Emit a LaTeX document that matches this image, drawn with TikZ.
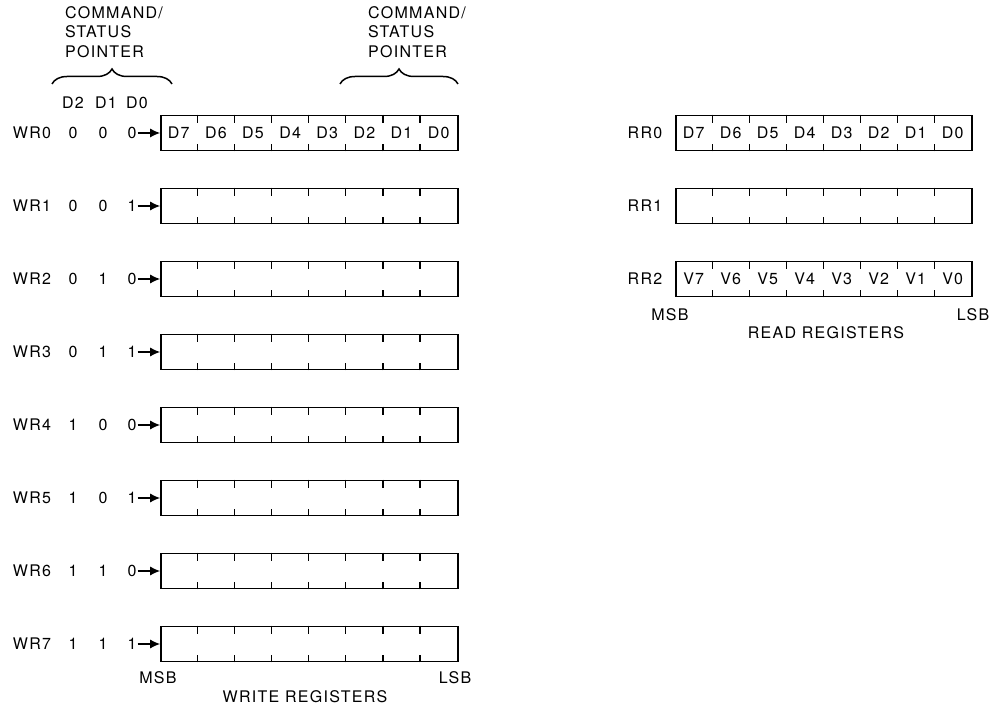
\documentclass[tikz,border=0pt]{standalone}
\usepackage{fontspec}
\setmainfont{TeX Gyre Heros}[LetterSpace=8]
\usetikzlibrary{decorations.pathreplacing,arrows.meta,calc}
\begin{document}
\begin{tikzpicture}[x=1pt,y=1pt,
  font=\fontsize{16}{19.5}\selectfont,
  txt/.style={inner sep=0pt},
  regbox/.style={draw,line width=1.6pt,minimum width=297pt,minimum height=35pt,inner sep=0pt},
  tick/.style={line width=1.2pt},
  ptr/.style={line width=1.4pt,-{Latex[length=10pt,width=9pt]},shorten <=1pt},
  brc/.style={line width=1.5pt,decorate,decoration={brace,amplitude=15pt}}]
\useasboundingbox (0,0) rectangle (989,718);

% ---- write registers ----
\foreach \k/\a/\b/\c in {0/0/0/0,1/0/0/1,2/0/1/0,3/0/1/1,4/1/0/0,5/1/0/1,6/1/1/0,7/1/1/1}{
  \pgfmathsetmacro{\yc}{718-(133+73*\k)}
  \node[regbox] (w\k) at (309.5,\yc) {};
  \foreach \i in {1,...,7}{
    \draw[tick] ($(w\k.north west)+(37.125*\i,0)$) -- ++(0,-8);
    \draw[tick] ($(w\k.south west)+(37.125*\i,0)$) -- ++(0,7);
  }
  \node[txt] (wl\k) at (32,\yc) {WR\k};
  \node[txt] (wa\k) at (73,\yc) {\a};
  \node[txt] (wb\k) at (103,\yc) {\b};
  \node[txt] (wc\k) at (132,\yc) {\c};
  \draw[ptr] (wc\k.east) -- (w\k.west);
}
% bit names in WR0
\foreach \i/\t in {0/D7,1/D6,2/D5,3/D4,4/D3,5/D2,6/D1,7/D0}{
  \node[txt] (wd\i) at ($(w0.west)+(18.56+37.125*\i,0)$) {\t};
}
\node[txt] (hd2) at (73,615) {D2};
\node[txt] (hd1) at (106,615) {D1};
\node[txt] (hd0) at (137,615) {D0};

\node[txt,anchor=north west,align=left] (cmdl) at (65,712) {COMMAND/\\STATUS\\POINTER};
\node[txt,anchor=north west,align=left] (cmdr) at (368,712) {COMMAND/\\STATUS\\POINTER};
\coordinate (bl1) at (52,634);
\coordinate (bl2) at (172,634);
\coordinate (br1) at (340,634);
\coordinate (br2) at (458,634);
\draw[brc] (bl1) -- (bl2);
\draw[brc] (br1) -- (br2);

\node[txt] (wmsb) at (158,40) {MSB};
\node[txt] (wlsb) at (455,40) {LSB};
\node[txt] (wtitle) at (305,21) {WRITE REGISTERS};

% ---- read registers ----
\foreach \k in {0,1,2}{
  \pgfmathsetmacro{\yc}{718-(133+73*\k)}
  \node[regbox,minimum width=296pt] (r\k) at (824,\yc) {};
  \foreach \i in {1,...,7}{
    \draw[tick] ($(r\k.north west)+(37*\i,0)$) -- ++(0,-8);
    \draw[tick] ($(r\k.south west)+(37*\i,0)$) -- ++(0,7);
  }
  \node[txt] (rl\k) at (645,\yc) {RR\k};
}
\foreach \i/\t in {0/D7,1/D6,2/D5,3/D4,4/D3,5/D2,6/D1,7/D0}{
  \node[txt] (rd\i) at ($(r0.west)+(18.5+37*\i,0)$) {\t};
}
\foreach \i/\t in {0/V7,1/V6,2/V5,3/V4,4/V3,5/V2,6/V1,7/V0}{
  \node[txt] (rv\i) at ($(r2.west)+(18.5+37*\i,0)$) {\t};
}
\node[txt] (rmsb) at (670,403) {MSB};
\node[txt] (rlsb) at (973,403) {LSB};
\node[txt] (rtitle) at (826,385) {READ REGISTERS};
\end{tikzpicture}
\end{document}
